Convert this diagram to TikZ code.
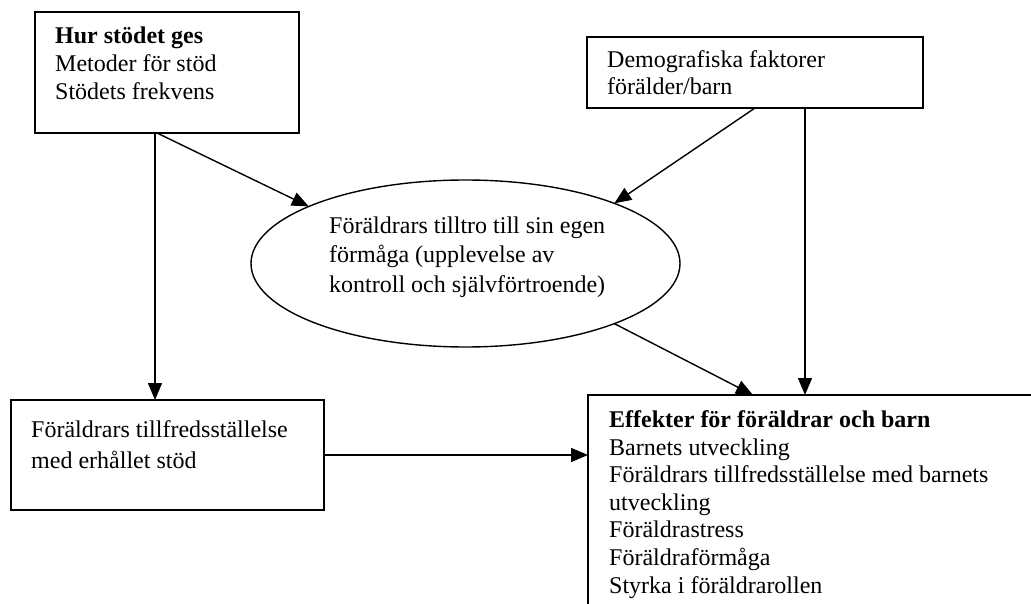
\documentclass[tikz,border=0pt]{standalone}
\usepackage{fontspec}
\setmainfont{Liberation Serif}
\usetikzlibrary{arrows.meta,shapes.geometric}
\tikzset{
  box/.style={draw, line width=1.8pt, rectangle, inner sep=0pt, outer sep=0pt, anchor=north west},
  txt/.style={anchor=base west, align=left, inner sep=0pt, font=\fontsize{24}{27.6}\selectfont},
  arr/.style={line width=1.4pt, -{Triangle[length=17pt,width=14pt]}}
}
\begin{document}
\begin{tikzpicture}[x=1pt,y=-1pt]
\useasboundingbox (0,0) rectangle (1031,604);
\clip (0,0) rectangle (1031,604);
\fill[white] (0,0) rectangle (1031,604);
% boxes
\node[box, minimum width=264pt, minimum height=121pt] (hur) at (35,12) {};
\node[box, minimum width=336pt, minimum height=71pt] (demo) at (587,37) {};
\node[box, minimum width=313pt, minimum height=110pt] (tf) at (11,400) {};
\node[box, minimum width=470pt, minimum height=240pt] (eff) at (588,395) {};
\node[draw, ellipse, line width=1.4pt, inner sep=0pt, outer sep=0pt, minimum width=429pt, minimum height=167pt] (ell) at (465.5,263.5) {};
% texts (anchored at the baseline of their last line)
\node[txt, font=\fontsize{24}{28}\selectfont] (hurt) at (55,100) {\textbf{Hur stödet ges}\\Metoder för stöd\\Stödets frekvens};
\node[txt, font=\fontsize{24}{27}\selectfont] (demot) at (607,95) {Demografiska faktorer\\förälder/barn};
\node[txt, font=\fontsize{24}{29.5}\selectfont] (ellt) at (329,292) {Föräldrars tilltro till sin egen\\förmåga (upplevelse av\\kontroll och självförtroende)};
\node[txt, font=\fontsize{24}{31}\selectfont] (tft) at (31,468) {Föräldrars tillfredsställelse\\med erhållet stöd};
\node[txt] (efft) at (609,593) {\textbf{Effekter för föräldrar och barn}\\Barnets utveckling\\Föräldrars tillfredsställelse med barnets\\utveckling\\Föräldrastress\\Föräldraförmåga\\Styrka i föräldrarollen};
% connectors
\coordinate (h1) at ([xshift=120pt]hur.south west);
\coordinate (h2) at ([xshift=122pt]hur.south west);
\coordinate (d1) at ([xshift=168pt]demo.south west);
\coordinate (d2) at ([xshift=218pt]demo.south west);
\coordinate (e1) at ([xshift=165pt]eff.north west);
\draw[arr] (h1) -- (h1 |- tf.north);
\draw[arr] (h2) -- (ell.160);
\draw[arr] (d1) -- (ell.22);
\draw[arr] (d2) -- (d2 |- eff.north);
\draw[arr] (ell.-22) -- (e1);
\draw[arr] (tf.east) -- (tf.east -| eff.west);
\end{tikzpicture}
\end{document}
